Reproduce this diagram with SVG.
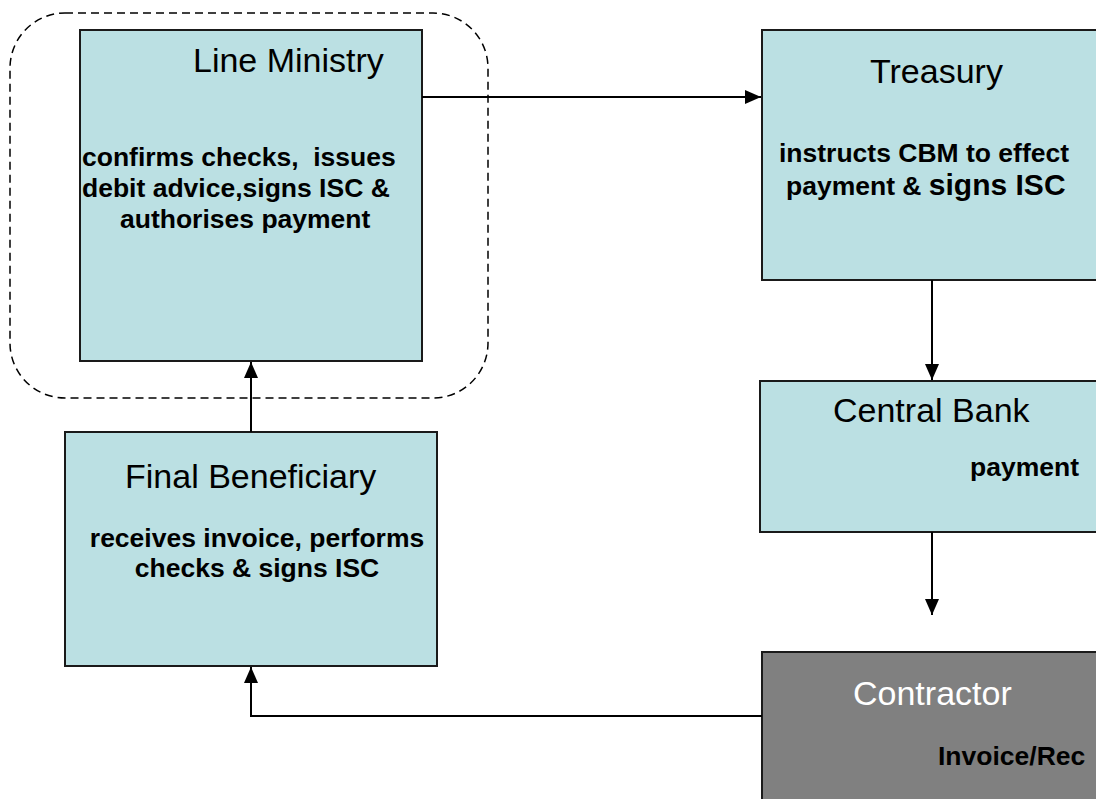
<svg xmlns="http://www.w3.org/2000/svg" width="1096" height="799" viewBox="0 0 1096 799">
<style>
.box{fill:#bbe0e3;stroke:#1a1a1a;stroke-width:2}
.dark{fill:#808080;stroke:#1a1a1a;stroke-width:2}
.title{font-family:"Liberation Sans",Arial,sans-serif;font-size:34px;fill:#000}
.body{font-family:"Liberation Sans",Arial,sans-serif;font-size:26.5px;font-weight:bold;fill:#000;white-space:pre}
.conn{fill:none;stroke:#000;stroke-width:2}
</style>
<defs>
<marker id="arr" viewBox="0 0 16 14" refX="16" refY="7" markerWidth="16" markerHeight="14" markerUnits="userSpaceOnUse" orient="auto">
<path d="M0,0 L16,7 L0,14 Z" fill="#000"/>
</marker>
</defs>
<rect width="1096" height="799" fill="#fff"/>
<g id="group-boundary">
<rect x="10" y="13" width="478" height="385" rx="55" ry="55" fill="none" stroke="#000" stroke-width="1.5" stroke-dasharray="8,5"/>
</g>
<g id="line-ministry">
<rect class="box" x="80" y="30" width="342" height="331"/>
<text class="title" x="193" y="72">Line Ministry</text>
<text class="body" x="82" y="166" xml:space="preserve">confirms checks,  issues</text>
<text class="body" x="82" y="197">debit advice,signs ISC &amp;</text>
<text class="body" x="120" y="228">authorises payment</text>
</g>
<g id="treasury">
<rect class="box" x="762" y="30" width="340" height="250"/>
<text class="title" x="870" y="83">Treasury</text>
<text class="body" x="779" y="162">instructs CBM to effect</text>
<text class="body" x="786" y="195">payment &amp; <tspan font-size="30">signs ISC</tspan></text>
</g>
<g id="central-bank">
<rect class="box" x="760" y="381" width="342" height="151"/>
<text class="title" x="833" y="422">Central Bank</text>
<text class="body" x="970" y="476">payment</text>
</g>
<g id="final-beneficiary">
<rect class="box" x="65" y="432" width="372" height="234"/>
<text class="title" x="125" y="488">Final Beneficiary</text>
<text class="body" x="257" y="547" text-anchor="middle">receives invoice, performs</text>
<text class="body" x="257" y="577" text-anchor="middle">checks &amp; signs ISC</text>
</g>
<g id="contractor">
<rect class="dark" x="762" y="652" width="340" height="160"/>
<text class="title" x="853" y="705" style="fill:#fff">Contractor</text>
<text class="body" x="938" y="765">Invoice/Rec</text>
</g>
<g id="connectors">
<line class="conn" x1="422" y1="97" x2="761" y2="97" marker-end="url(#arr)"/>
<line class="conn" x1="932" y1="280" x2="932" y2="380" marker-end="url(#arr)"/>
<line class="conn" x1="932" y1="532" x2="932" y2="615" marker-end="url(#arr)"/>
<line class="conn" x1="251" y1="432" x2="251" y2="362" marker-end="url(#arr)"/>
<polyline class="conn" points="762,716 251,716 251,667" marker-end="url(#arr)"/>
</g>
</svg>
